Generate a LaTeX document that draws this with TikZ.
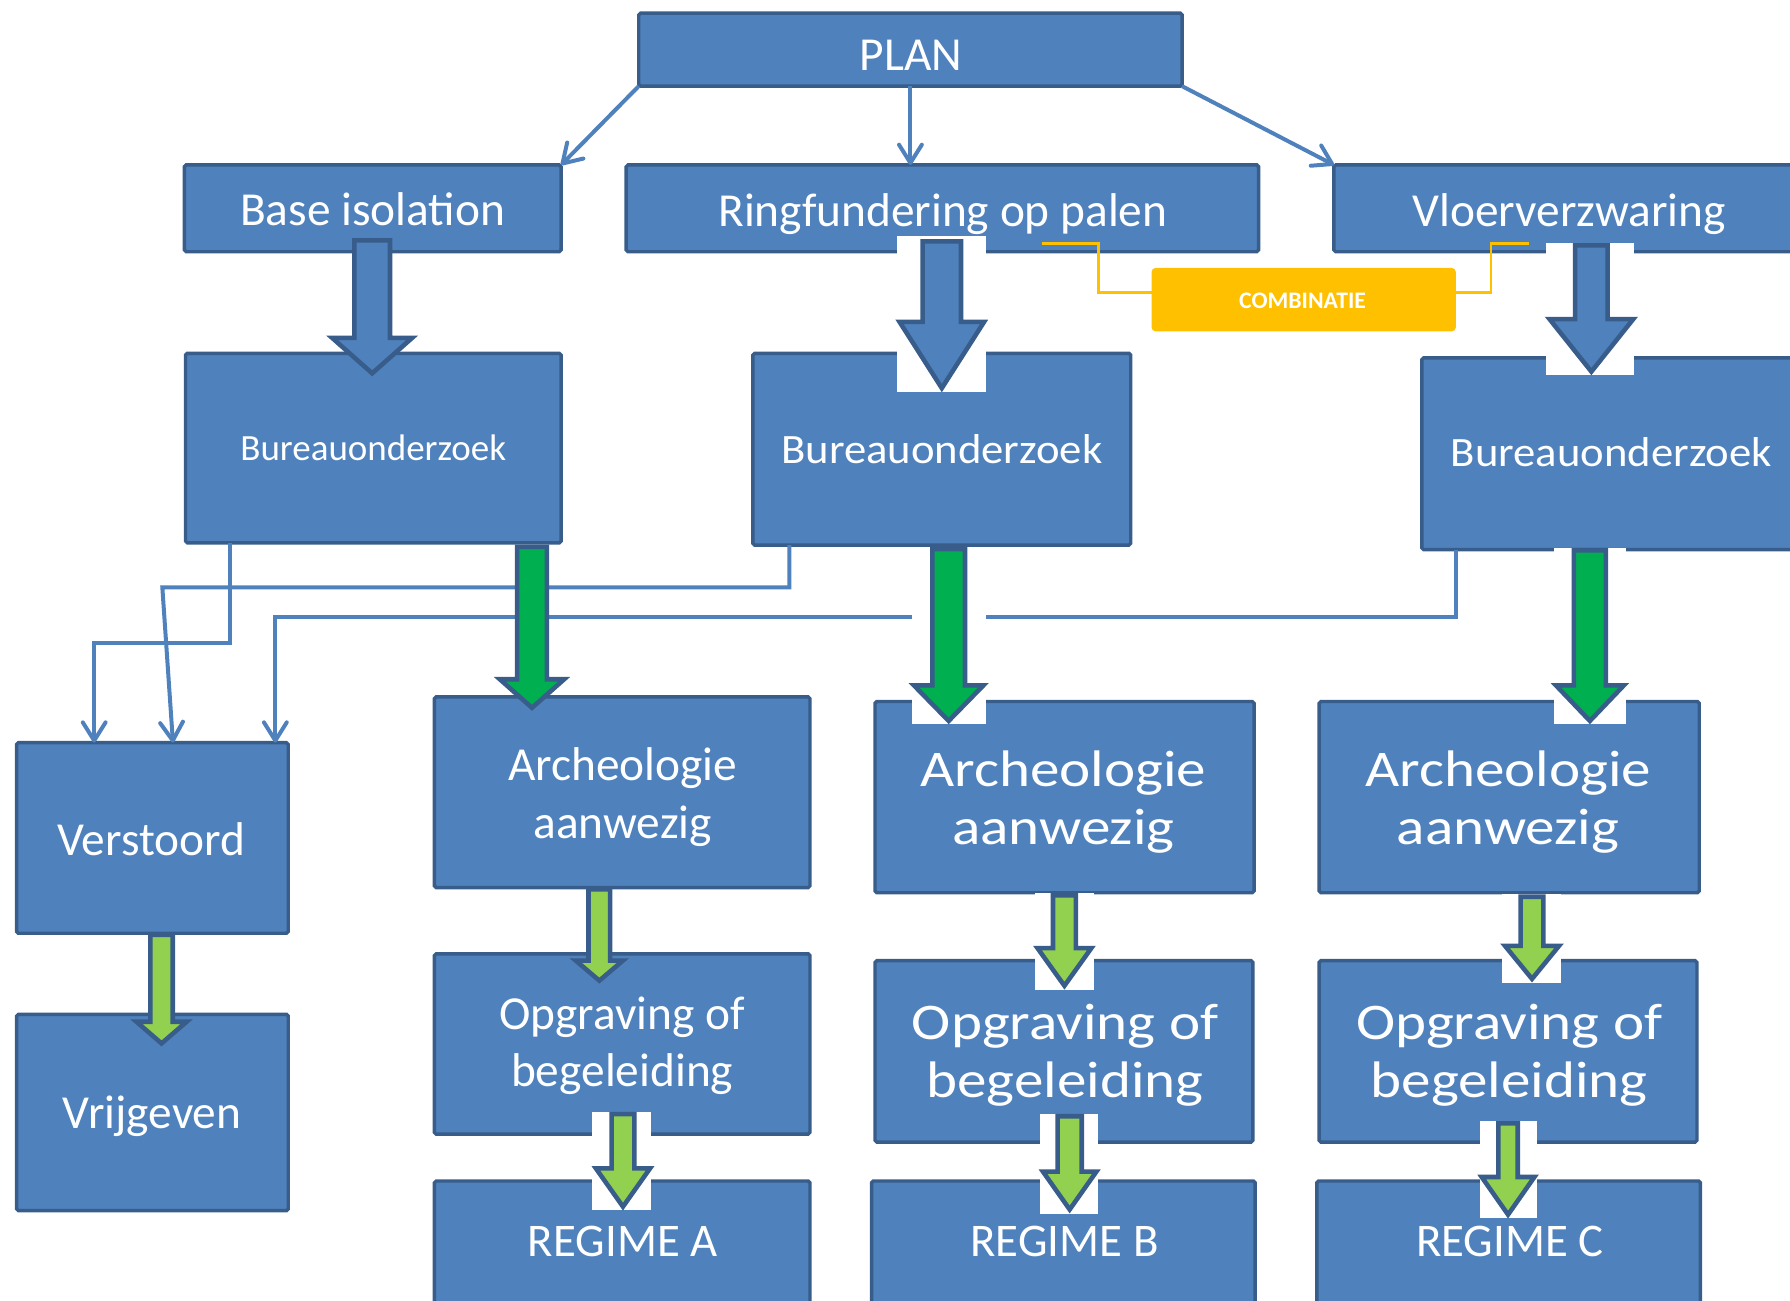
\documentclass[tikz,border=0pt]{standalone}
\usepackage{fontspec}
\setmainfont{Carlito}
\newfontfamily\wideB[FakeStretch=1.07]{Carlito}
\newfontfamily\wideC[FakeStretch=1.15]{Carlito}
\usetikzlibrary{arrows.meta,calc}
\definecolor{boxfill}{HTML}{4F81BD}
\definecolor{boxline}{HTML}{385D8A}
\definecolor{dgreen}{HTML}{00B050}
\definecolor{lgreen}{HTML}{92D050}
\definecolor{yelbox}{HTML}{FFC000}
\newcommand\twolines[2]{\begin{tabular}[t]{@{}c@{}}#1\\#2\end{tabular}}
\newcommand\bx[6][]{\node[box,minimum width={(#5-#3-3)*0.5pt},minimum height={(#6-#4-3)*0.5pt},#1] (#2) at ({(#3+#5)/2},{(#4+#6)/2}) {};}
% block arrow: colour, x, ytop, ybase, ytip, shaft half width, head half width
\newcommand\blk[7]{\filldraw[blkarrow,fill=#1] ({#2-#6},#3) -- ({#2+#6},#3) -- ({#2+#6},#4) -- ({#2+#7},#4) -- (#2,#5) -- ({#2-#7},#4) -- ({#2-#6},#4) -- cycle;}
\newcommand\wpatch[4]{\fill[white] (#1,#2) rectangle (#3,#4);}
\begin{document}
\begin{tikzpicture}[x=0.5pt,y=-0.5pt,
 box/.style={draw=boxline,fill=boxfill,line width=1.5pt,inner sep=0pt,outer sep=0pt,rounded corners=0.8pt},
 ybox/.style={draw=yelbox,fill=yelbox,line width=0.8pt,inner sep=0pt,outer sep=0pt,rounded corners=1.5pt},
 link/.style={draw=boxfill,line width=1.75pt},
 linkarrow/.style={link,-{Straight Barb[length=8pt,width=10pt,round]}},
 ylink/.style={draw=yelbox,line width=1.2pt},
 blkarrow/.style={draw=boxline,line width=2pt,line join=miter},
 txt/.style={text=white,inner sep=0pt,anchor=base},
 fbig/.style={font=\fontsize{20.75}{25.25}\selectfont},
 fbur/.style={font=\fontsize{16.2}{19.4}\selectfont},
 fburw/.style={font=\wideB\fontsize{18.3}{22}\selectfont},
 fwide/.style={font=\wideC\fontsize{22.5}{25.25}\selectfont},
 freg/.style={font=\fontsize{20.5}{24.6}\selectfont},
 fcomb/.style={font=\bfseries\fontsize{10.4}{12.5}\selectfont}]
\useasboundingbox (0,0) rectangle (1568,1138.8);
\clip (0,0) rectangle (1568,1138.8);
% boxes
\bx{plan}{558}{10}{1037}{77}
\bx{bi}{160}{143}{493}{222}
\bx{rf}{547}{143}{1104}{222}
\bx{vv}{1167}{143}{1620}{222}
\bx{bu1}{161}{308}{493}{477}
\bx{bu2}{658}{308}{992}{479}
\bx{bu3}{1244}{312}{1620}{483}
\bx[ybox]{comb}{1008}{234}{1276}{291}
\bx{vs}{13}{649}{254}{819}
\bx{vg}{13}{887}{254}{1062}
\bx{a1}{379}{609}{711}{779}
\bx{a2}{765}{613}{1100}{783.5}
\bx{a3}{1154}{613}{1490}{783.5}
\bx{o1}{379}{834}{711}{995}
\bx{o2}{765}{840}{1099}{1002}
\bx{o3}{1154}{840}{1488}{1002}
\bx{r1}{379}{1033}{711}{1210}
\bx{r2}{762}{1033}{1101}{1210}
\bx{r3}{1152}{1033}{1491}{1210}
% thin connectors
\draw[linkarrow] (plan.south west) -- (bi.north east);
\draw[linkarrow] (plan.south) -- (plan.south |- rf.north);
\draw[linkarrow] (plan.south east) -- (vv.north west);
\draw[linkarrow] ([xshift=19.5pt]bu1.south west) -- ++(0,87.5) -| ([xshift=34pt]vs.north west);
\draw[linkarrow] ([xshift=16pt]bu2.south west) -- ++(0,37) coordinate (k2) -- ($(vs.north west |- k2)+(127.7,0)$) -- ([xshift=68.5pt]vs.north west);
\draw[linkarrow] ([xshift=15pt]bu3.south west) -- ++(0,59.3) -| ([xshift=113.35pt]vs.north west);
\draw[ylink] ([yshift=3.25pt]comb.west) -| ++(-47.5,-43) -- ++(-49.5,0);
\draw[ylink] ([yshift=3.25pt]comb.east) -| ++(31.5,-43) -- ++(33,0);
% block arrows
\blk{boxfill}{326}{210.5}{296}{327}{15.6}{35}
\wpatch{786}{206.7}{864}{343}
\blk{boxfill}{825}{211.5}{282}{340}{16.8}{37}
\wpatch{1354}{213}{1431.4}{328.4}
\blk{boxfill}{1394}{215}{279.5}{325.5}{14.3}{36.7}
\blk{dgreen}{466}{479}{595}{620}{13}{28.2}
\wpatch{798.7}{480}{863.5}{634}
\blk{dgreen}{831}{481}{600.4}{631.5}{14.3}{30.4}
\wpatch{1361}{480}{1424.4}{634}
\blk{dgreen}{1392.7}{482}{600.4}{631.5}{14}{29.7}
\blk{lgreen}{141.5}{819}{895}{914}{9.85}{22}
\blk{lgreen}{525}{779}{841.5}{859}{9.5}{20.6}
\wpatch{519}{974}{570.4}{1060}
\blk{lgreen}{545.7}{976}{1023.5}{1057}{10}{23.7}
\wpatch{906.7}{782.4}{958}{867}
\blk{lgreen}{932.4}{784.4}{830.5}{863.5}{10}{23.6}
\wpatch{1316}{783.5}{1367.5}{861}
\blk{lgreen}{1342}{785.5}{828.5}{857.5}{10}{23.7}
\wpatch{911.3}{975.8}{962}{1063}
\blk{lgreen}{937}{977.8}{1026.3}{1059.5}{10.6}{23.4}
\wpatch{1296.2}{982}{1346.4}{1067.2}
\blk{lgreen}{1321}{984}{1031}{1064}{8.5}{23.1}
% texts
\node[txt,fbig] (tplan) at (798,61.7) {PLAN};
\node[txt,fbig] (tbi) at (326.5,197.8) {Base isolation};
\node[txt,fbig] (trf) at (826,198) {Ringfundering op palen};
\node[txt,fbig] (tvv) at (1374.5,198) {Vloerverzwaring};
\node[txt,fbur] (tbu1) at (327,403) {Bureauonderzoek};
\node[txt,fburw] (tbu2) at (825,406) {Bureauonderzoek};
\node[txt,fburw] (tbu3) at (1411.5,409) {Bureauonderzoek};
\node[txt,fcomb] (tcomb) at (1141,270) {COMBINATIE};
\node[txt,fbig] (tvs) at (132.5,749) {Verstoord};
\node[txt,fbig] (tvg) at (133,988.5) {Vrijgeven};
\node[txt,fbig] (ta1) at (545.5,683.7) {\twolines{Archeologie}{aanwezig}};
\node[txt,fwide] (ta2) at (931.5,689) {\twolines{Archeologie}{aanwezig}};
\node[txt,fwide] (ta3) at (1321,689) {\twolines{Archeologie}{aanwezig}};
\node[txt,fbig] (to1) at (545,901.4) {\twolines{Opgraving of}{begeleiding}};
\node[txt,fwide] (to2) at (933,910.5) {\twolines{Opgraving of}{begeleiding}};
\node[txt,fwide] (to3) at (1322,910.5) {\twolines{Opgraving of}{begeleiding}};
\node[txt,freg] (tr1) at (545.5,1101) {REGIME A};
\node[txt,freg] (tr2) at (932.5,1101) {REGIME B};
\node[txt,freg] (tr3) at (1322.5,1101) {REGIME C};
\end{tikzpicture}
\end{document}
